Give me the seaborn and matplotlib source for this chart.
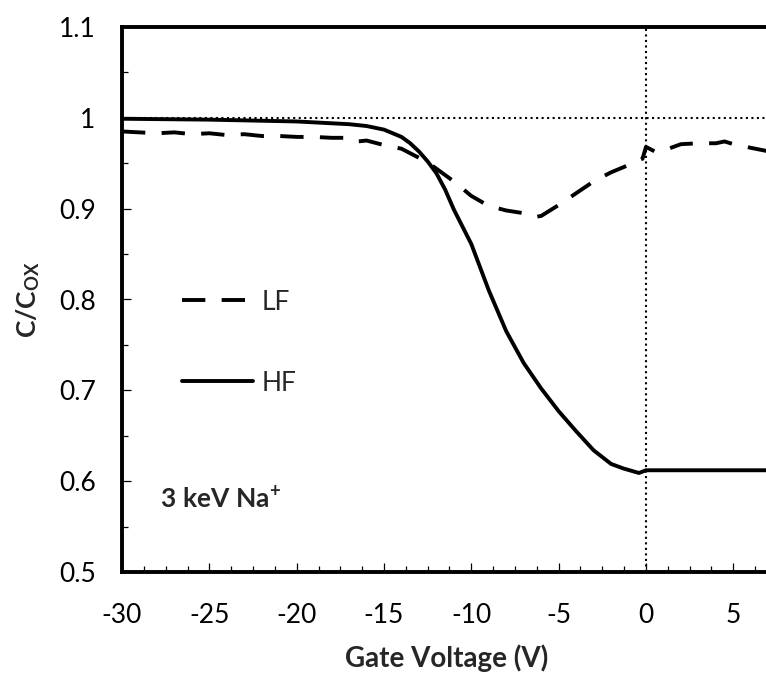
import matplotlib
matplotlib.use("Agg")
import matplotlib.pyplot as plt
from matplotlib.ticker import MultipleLocator
import seaborn as sns
import pandas as pd

# ---- data ----
lf_x = [-30, -29, -28, -27, -26, -25, -24, -23, -22, -21, -20, -19, -18, -17, -16.5,
        -16, -15, -14, -13, -12.5, -12, -11, -10, -9, -8, -7, -6.3, -6, -5, -4, -3,
        -2, -1, -0.2, 0.0, 0.5, 1, 2, 3, 4, 4.5, 5, 6, 7.3]
lf_y = [0.985, 0.984, 0.983, 0.984, 0.982, 0.983, 0.981, 0.982, 0.980, 0.980, 0.979,
        0.979, 0.978, 0.978, 0.974, 0.975, 0.970, 0.966, 0.956, 0.951, 0.944, 0.930,
        0.914, 0.903, 0.898, 0.895, 0.891, 0.892, 0.904, 0.917, 0.930, 0.940, 0.948,
        0.955, 0.968, 0.963, 0.964, 0.971, 0.972, 0.972, 0.974, 0.971, 0.967, 0.962]

hf_x = [-30, -25, -20, -18, -17, -16, -15, -14, -13.5, -13, -12.5, -12, -11.5, -11,
        -10.5, -10, -9, -8, -7, -6, -5, -4, -3, -2, -1.3, -0.4, 0.0, 1, 3, 5, 7.3]
hf_y = [0.999, 0.998, 0.996, 0.994, 0.993, 0.991, 0.987, 0.979, 0.972, 0.963, 0.952,
        0.939, 0.921, 0.899, 0.880, 0.861, 0.810, 0.765, 0.730, 0.702, 0.677, 0.655,
        0.634, 0.619, 0.614, 0.609, 0.612, 0.612, 0.612, 0.612, 0.612]

x_ticks = [-30, -25, -20, -15, -10, -5, 0, 5]
y_ticks = [0.5, 0.6, 0.7, 0.8, 0.9, 1.0, 1.1]
y_ticklabels = ["0.5", "0.6", "0.7", "0.8", "0.9", "1", "1.1"]

sns.set_theme(style="white")
plt.rcParams["font.family"] = ["Lato", "DejaVu Sans"]
plt.rcParams["axes.unicode_minus"] = False
plt.rcParams["mathtext.fontset"] = "custom"
plt.rcParams["mathtext.rm"] = "Lato"
plt.rcParams["mathtext.bf"] = "Lato:bold"
plt.rcParams["mathtext.it"] = "Lato:italic"

fig = plt.figure(figsize=(7.66, 6.77), dpi=100)
# axes run slightly past the right edge of the figure (cropped like the reference)
ax = fig.add_axes([122 / 766, 1 - 572 / 677, (772 - 122) / 766, (572 - 27) / 677])

lf = pd.DataFrame({"x": lf_x, "y": lf_y})
hf = pd.DataFrame({"x": hf_x, "y": hf_y})

ax.axhline(1.0, color="black", lw=1.5, ls=":", zorder=1)
ax.axvline(0.0, color="black", lw=1.5, ls=":", zorder=1)

sns.lineplot(data=lf, x="x", y="y", ax=ax, color="black", lw=2.8, label="LF",
             estimator=None, sort=False, linestyle=(0, (6.0, 4.2)))
sns.lineplot(data=hf, x="x", y="y", ax=ax, color="black", lw=2.8, label="HF",
             estimator=None, sort=False)

ax.set_xlim(-30, -30 + (772 - 122) / (524 / 30))
ax.set_ylim(0.5, 1.1)
ax.set_xticks(x_ticks)
ax.set_yticks(y_ticks)
ax.set_yticklabels(y_ticklabels)
ax.xaxis.set_minor_locator(MultipleLocator(1.25))
ax.yaxis.set_minor_locator(MultipleLocator(0.05))
ax.tick_params(which="both", direction="in", color="black", width=0.9,
               bottom=True, left=True, top=False, right=False, labelsize=19,
               labelcolor="black")
ax.tick_params(which="major", length=6.5)
ax.tick_params(which="minor", length=4.5)
ax.tick_params(axis="y", which="major", pad=19)
ax.tick_params(axis="x", which="major", pad=22)

for side in ["left", "bottom", "top"]:
    ax.spines[side].set_color("black")
    ax.spines[side].set_linewidth(2.8)
ax.spines["right"].set_visible(False)

ax.set_xlabel("Gate Voltage (V)", fontsize=20, fontweight="bold", labelpad=12)
ax.set_ylabel(r"$\mathbf{C/C}_{\mathbf{OX}}$", fontsize=19, labelpad=12)

ax.text(-27.8, 0.579, r"$\mathbf{3\ keV\ Na^{+}}$", fontsize=19, va="center",
        ha="left")

leg = ax.legend(loc="upper left", bbox_to_anchor=((182 - 122) / 650, 0.518),
                frameon=False, fontsize=19, handlelength=2.7, handletextpad=0.3,
                labelspacing=2.12, borderpad=0, borderaxespad=0)

fig.savefig("out.png", dpi=100)
